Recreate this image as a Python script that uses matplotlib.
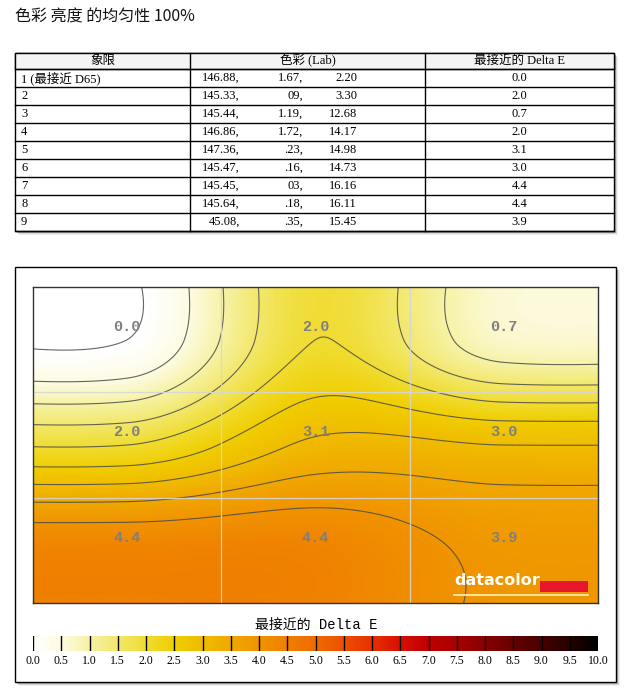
import numpy as np
import matplotlib
matplotlib.use("Agg")
import matplotlib.pyplot as plt
from matplotlib.colors import LinearSegmentedColormap
from matplotlib.patches import Rectangle

# -------------------------
# Data
# -------------------------
title = "色彩 亮度 的均匀性 100%"
headers = ["象限", "色彩 (Lab)", "最接近的 Delta E"]
quadrants = ["1 (最接近 D65)", "2", "3", "4", "5", "6", "7", "8", "9"]
lab_L = ["146.88,", "145.33,", "145.44,", "146.86,", "147.36,", "145.47,", "145.45,", "145.64,", "45.08,"]
lab_a = ["1.67,", "09,", "1.19,", "1.72,", ".23,", ".16,", "03,", ".18,", ".35,"]
lab_b = ["2.20", "3.30", "12.68", "14.17", "14.98", "14.73", "16.16", "16.11", "15.45"]
delta_e = [0.0, 2.0, 0.7, 2.0, 3.1, 3.0, 4.4, 4.4, 3.9]

cbar_title = "最接近的 Delta E"
cbar_ticks = np.arange(0, 10.01, 0.5)

# colour scale stops (value, colour)
cmap_stops = [(0.0, "#ffffff"), (0.5, "#fdfbe0"), (1.0, "#f6f2a4"), (2.0, "#f0dc30"),
              (2.5, "#f0cd00"), (3.0, "#f0bc00"), (3.5, "#f0a800"), (4.0, "#f09400"),
              (4.5, "#f08000"), (5.0, "#f06a00"), (5.5, "#ee5000"), (6.0, "#e83000"),
              (6.5, "#d81000"), (7.0, "#c00000"), (7.5, "#a80000"), (8.0, "#880000"),
              (8.5, "#680000"), (9.0, "#480000"), (9.5, "#280000"), (10.0, "#000000")]

CJK = ["Noto Sans CJK SC", "DejaVu Sans"]
TAB = ["Liberation Serif", "Noto Sans CJK SC"]

W, H = 635, 698
fig = plt.figure(figsize=(W / 100, H / 100), dpi=100)
fig.patch.set_facecolor("white")

# background axes in pixel coordinates for table + frame
bg = fig.add_axes([0, 0, 1, 1])
bg.set_xlim(0, W)
bg.set_ylim(H, 0)
bg.axis("off")

bg.text(15, 17, title, fontsize=11.5, family=CJK, va="center", ha="left", color="#111111")


def shadow_box(x0, y0, x1, y1):
    for i, a in enumerate([0.30, 0.18, 0.08]):
        bg.add_patch(Rectangle((x0 + 2 + i, y0 + 2 + i), x1 - x0, y1 - y0,
                               facecolor="#555555", edgecolor="none", alpha=a, zorder=1))
    bg.add_patch(Rectangle((x0, y0), x1 - x0, y1 - y0, facecolor="white",
                           edgecolor="black", lw=1, zorder=2))


# -------------------------
# Table
# -------------------------
tx = [15, 190, 425, 614]
top, head_h, row_h = 52.5, 16.5, 18.0
bottom = top + head_h + row_h * len(quadrants)
shadow_box(tx[0], top, tx[-1], bottom)
bg.add_patch(Rectangle((tx[0], top), tx[-1] - tx[0], head_h, facecolor="#f4f4f4",
                       edgecolor="black", lw=1, zorder=3))
for x in tx[1:-1]:
    bg.plot([x, x], [top, bottom], color="black", lw=1, zorder=4)
for r in range(len(quadrants) + 1):
    y = top + head_h + r * row_h
    bg.plot([tx[0], tx[-1]], [y, y], color="black", lw=1, zorder=4)

for c, h in enumerate(headers):
    bg.text((tx[c] + tx[c + 1]) / 2, top + head_h / 2, h, family=TAB, fontsize=9,
            ha="center", va="center", zorder=5)

for r in range(len(quadrants)):
    yc = top + head_h + (r + 0.5) * row_h
    bg.text(21, yc, quadrants[r], family=TAB, fontsize=9, ha="left", va="center", zorder=5)
    bg.text(240, yc, lab_L[r], family=TAB, fontsize=9, ha="right", va="center", zorder=5)
    bg.text(303, yc, lab_a[r], family=TAB, fontsize=9, ha="right", va="center", zorder=5)
    bg.text(357, yc, lab_b[r], family=TAB, fontsize=9, ha="right", va="center", zorder=5)
    bg.text((tx[2] + tx[3]) / 2, yc, f"{delta_e[r]:.1f}", family=TAB, fontsize=9,
            ha="center", va="center", zorder=5)

# -------------------------
# Chart panel frame
# -------------------------
shadow_box(15, 267, 616, 682)

cmap = LinearSegmentedColormap.from_list(
    "dE", [(v / 10.0, c) for v, c in cmap_stops])


# smooth Hermite interpolation from 3 cell centres to n samples,
# edge tangents damped so the surface barely overshoots past the edge cells
def smooth_weights(n, k=0.55):
    t = np.linspace(0, 3, n) - 0.5
    i = np.clip(np.floor(t).astype(int), -1, 2)
    u = t - i
    Wt = np.zeros((n, 3))
    for j in range(3):
        p = np.eye(3)[j]
        vals = np.array([p[0], p[0], p[1], p[2], p[2]])
        tans = np.array([0, k * (p[1] - p[0]) / 2, (p[2] - p[0]) / 2, k * (p[2] - p[1]) / 2, 0])
        va, vb = vals[i + 1], vals[i + 2]
        ma, mb = tans[i + 1], tans[i + 2]
        Wt[:, j] = ((2 * u ** 3 - 3 * u ** 2 + 1) * va + (u ** 3 - 2 * u ** 2 + u) * ma
                    + (-2 * u ** 3 + 3 * u ** 2) * vb + (u ** 3 - u ** 2) * mb)
    return Wt


grid = np.array(delta_e).reshape(3, 3)
nx, ny = 400, 300
Z = smooth_weights(ny) @ grid @ smooth_weights(nx).T

ax = fig.add_axes([33 / W, 1 - 603 / H, 565 / W, 316 / H])
ax.imshow(np.clip(Z, 0, 10), cmap=cmap, vmin=0, vmax=10, extent=[0, 3, 3, 0],
          aspect="auto", interpolation="bilinear")
xs = np.linspace(0, 3, nx)
ys = np.linspace(0, 3, ny)
levels = np.arange(0, max(delta_e) + 0.01, 0.5)
ax.contour(xs, ys, Z, levels=levels, colors="#4a4a4a", linewidths=0.8, alpha=0.85)
for g in (1, 2):
    ax.axvline(g, color="#d6d6d6", lw=0.9, alpha=0.9)
    ax.axhline(g, color="#d6d6d6", lw=0.9, alpha=0.9)
for r in range(3):
    for c in range(3):
        ax.text(c + 0.5, r + 0.38, f"{grid[r, c]:.1f}", family="Liberation Mono",
                fontweight="bold", fontsize=11, color="#7f7f7f", ha="center", va="center")
ax.set_xlim(0, 3)
ax.set_ylim(3, 0)
ax.set_xticks([])
ax.set_yticks([])
for s in ax.spines.values():
    s.set_color("#333333")
    s.set_linewidth(1)

# datacolor logo
ax.text(0.745, 0.048, "datacolor", transform=ax.transAxes, color="white",
        fontweight="bold", fontsize=11.5, family="DejaVu Sans", ha="left", va="bottom")
ax.add_patch(Rectangle((0.898, 0.036), 0.084, 0.033, transform=ax.transAxes,
                       facecolor="#e8172b", edgecolor="none"))
ax.plot([0.745, 0.982], [0.026, 0.026], transform=ax.transAxes, color="#fff3c0", lw=1.2)

# -------------------------
# Colour bar
# -------------------------
fig.text(316 / W, 1 - 625 / H, cbar_title, family=["Liberation Mono", "Noto Sans CJK SC"],
         fontsize=10, ha="center", va="center")
cax = fig.add_axes([33 / W, 1 - 651 / H, 565 / W, 15 / H])
cax.imshow(np.linspace(0, 10, 600)[None, :], cmap=cmap, vmin=0, vmax=10,
           extent=[0, 10, 0, 1], aspect="auto")
for v in cbar_ticks[:-1]:
    cax.axvline(v, color="black", lw=1)
cax.set_xlim(0, 10)
cax.set_xticks([])
cax.set_yticks([])
for s in cax.spines.values():
    s.set_visible(False)
for v in cbar_ticks:
    fig.text((33 + v / 10 * 565) / W, 1 - 661 / H, f"{v:.1f}", family="Liberation Serif",
             fontsize=8.5, ha="center", va="center")

fig.savefig("out.png", dpi=100)
